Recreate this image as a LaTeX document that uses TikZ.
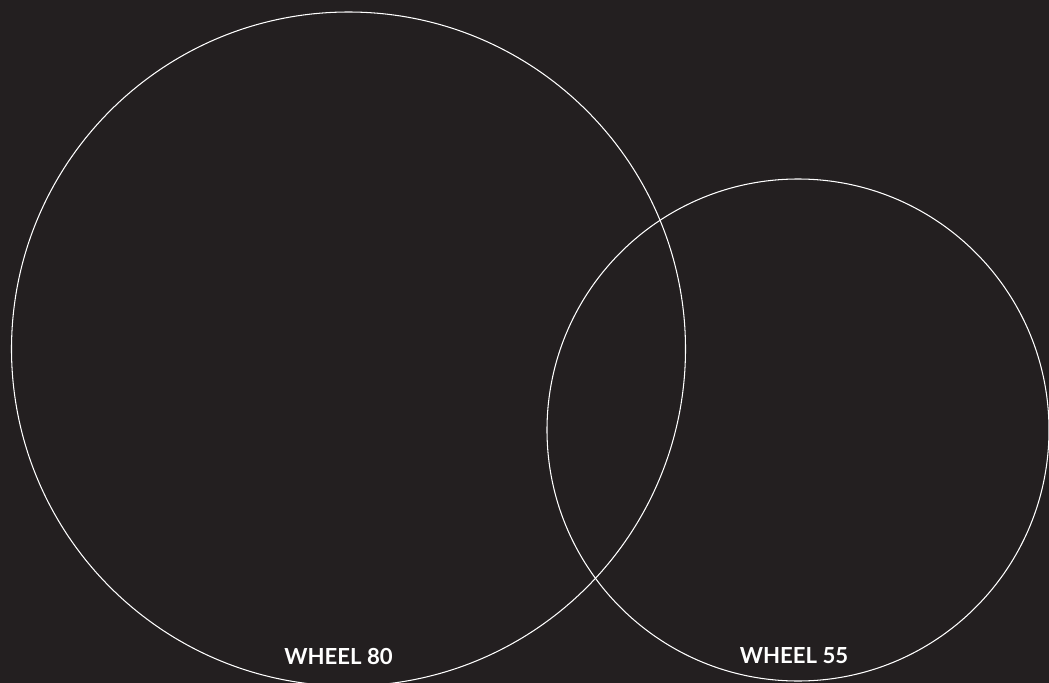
\documentclass[tikz,border=0pt]{standalone}
\usepackage{fontspec}
\setmainfont{Lato}
\usepackage{xcolor}
\definecolor{fondoOscuro}{HTML}{231F20}

\begin{document}
\begin{tikzpicture}[
            x=0.02cm, y=-0.02cm,
            rueda/.style={draw=white, line width=0.6pt},
            etiqueta/.style={text=white, font=\fontsize{12.6}{15}\selectfont\bfseries, inner sep=0pt}
        ]
\fill[fondoOscuro] (0,0) rectangle (1049,683);
\useasboundingbox (0,0) rectangle (1049,683);

\coordinate (c80) at (348.5,349);
\coordinate (c55) at (798,430);

\draw[rueda] (c80) circle[radius=337];
\draw[rueda] (c55) circle[radius=251];

\node[etiqueta] (w80) at (338.5,656) {WHEEL 80};
\node[etiqueta] (w55) at (794,656) {WHEEL 55};
        \end{tikzpicture}
\end{document}
